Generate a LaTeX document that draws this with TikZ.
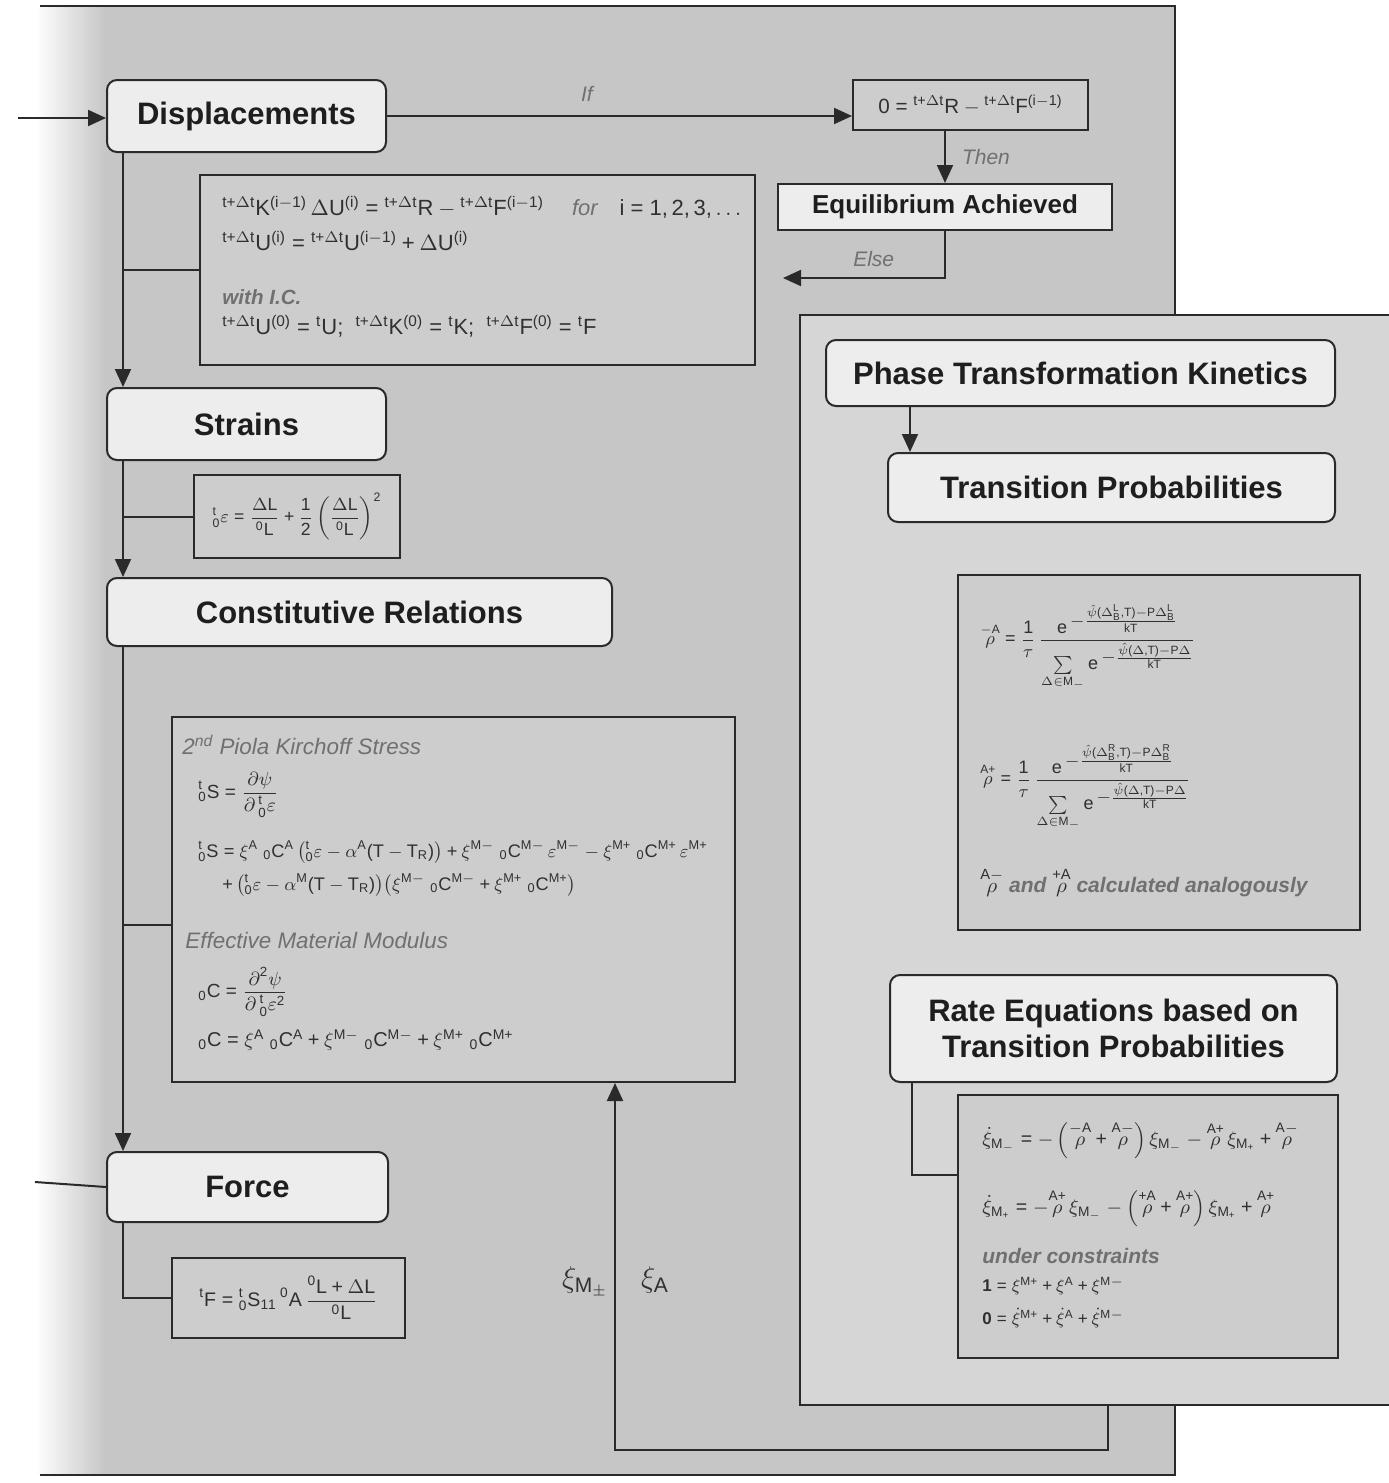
\documentclass[tikz,border=0pt]{standalone}
\usepackage{fix-cm}
\usepackage{amsmath}
\usepackage{fontspec}
\setmainfont{Liberation Sans}
\setsansfont{Liberation Sans}
\newfontfamily\lsans{Liberation Sans}[NFSSFamily=lsans]
\DeclareSymbolFont{sfnum}{TU}{lsans}{m}{n}
\AtBeginDocument{%
\DeclareMathSymbol{0}{\mathalpha}{sfnum}{`0}%
\DeclareMathSymbol{1}{\mathalpha}{sfnum}{`1}%
\DeclareMathSymbol{2}{\mathalpha}{sfnum}{`2}%
\DeclareMathSymbol{3}{\mathalpha}{sfnum}{`3}%
\DeclareMathSymbol{4}{\mathalpha}{sfnum}{`4}%
\DeclareMathSymbol{5}{\mathalpha}{sfnum}{`5}%
\DeclareMathSymbol{6}{\mathalpha}{sfnum}{`6}%
\DeclareMathSymbol{7}{\mathalpha}{sfnum}{`7}%
\DeclareMathSymbol{8}{\mathalpha}{sfnum}{`8}%
\DeclareMathSymbol{9}{\mathalpha}{sfnum}{`9}%
\DeclareMathSymbol{(}{\mathopen}{sfnum}{`(}%
\DeclareMathSymbol{)}{\mathclose}{sfnum}{`)}%
\DeclareMathSymbol{+}{\mathbin}{sfnum}{`+}%
\DeclareMathSymbol{=}{\mathrel}{sfnum}{`=}%
\DeclareMathSymbol{,}{\mathpunct}{sfnum}{`,}%
}
\usetikzlibrary{arrows.meta}
\definecolor{mainbg}{HTML}{C6C6C6}
\definecolor{panelbg}{HTML}{D6D6D6}
\definecolor{boxfill}{HTML}{EDEDED}
\definecolor{fboxfill}{HTML}{CDCDCD}
\definecolor{linec}{HTML}{2A2A2A}
\definecolor{txtc}{HTML}{1E1E1E}
\definecolor{mathc}{HTML}{303030}
\definecolor{lblc}{HTML}{707070}
\newcommand\mr[1]{\mathrm{#1}}
\newcommand\rr[1]{\overset{\mathrm{#1}}{\rho}}
\newcommand\tdt{\mr{t}+\Delta\mr{t}}
\newcommand\gl[1]{{\color{lblc}\itshape #1}}
\newcommand\gb[1]{{\color{lblc}\bfseries\itshape #1}}
\newcommand\ex[2]{\mathrm{e}\,\raisebox{3.5pt}{$-\frac{#1}{#2}$}}
\begin{document}
\begin{tikzpicture}[x=0.5pt,y=-0.5pt,
  title/.style={draw=linec, line width=1pt, rounded corners=5pt, fill=boxfill, text=txtc, font=\fontsize{15.5}{18}\selectfont\bfseries, inner sep=0pt},
  fbox/.style={draw=linec, line width=1pt, fill=fboxfill, inner sep=0pt},
  conn/.style={draw=linec, line width=1pt},
  arr/.style={conn, -{Triangle[length=9pt,width=8pt]}},
  lbl/.style={text=lblc, font=\fontsize{10.5}{12}\selectfont\itshape, inner sep=0pt},
  mtx/.style={text=mathc, font=\fontsize{9}{11}\selectfont, inner sep=0pt, anchor=west},
]
\useasboundingbox (0,0) rectangle (1388,1483);
\fill[white] (0,0) rectangle (1388,1483);
% main panel
\fill[mainbg] (35,6) rectangle (1175,1475);
\shade[left color=white, right color=mainbg] (35,6) rectangle (105,1475);
\draw[linec, line width=1pt] (40,6) -- (1175,6) -- (1175,1475) -- (40,1475);
% right panel
\node[draw=linec, line width=1pt, fill=panelbg, minimum width=296pt, minimum height=545pt, inner sep=0pt] (panel) at (1096,860) {};

% left column
\node[title, minimum width=139.5pt, minimum height=36pt] (disp) at (246.5,116) {Displacements};
\node[fbox, minimum width=117.5pt, minimum height=25pt, text=mathc, font=\fontsize{10.3}{12}\selectfont] (cond) at (970.5,105)
  {$0={}^{\tdt}\mr{R}-{}^{\tdt}\mr{F}^{(\mr{i}-1)}$};
\node[draw=linec, line width=1pt, fill=boxfill, inner sep=0pt, minimum width=167pt, minimum height=23pt, text=txtc, font=\fontsize{13}{15}\selectfont\bfseries] (equil) at (945,207) {Equilibrium Achieved};
\node[fbox, minimum width=277.5pt, minimum height=95pt] (eq1) at (477.5,270) {};
\node[mtx, font=\fontsize{11}{13}\selectfont] (e1a) at (222,207) {${}^{\tdt}\mr K^{(\mr i-1)}\,\Delta\mr U^{(\mr i)} = {}^{\tdt}\mr R - {}^{\tdt}\mr F^{(\mr i-1)}$\quad\ \gl{for}\quad $\mr i = 1,2,3,\ldots$};
\node[mtx, font=\fontsize{11}{13}\selectfont] (e1b) at (222,241) {${}^{\tdt}\mr U^{(\mr i)} = {}^{\tdt}\mr U^{(\mr i-1)} + \Delta\mr U^{(\mr i)}$};
\node[mtx, font=\fontsize{10.3}{12}\selectfont] (e1c) at (222,297) {\gb{with I.C.}};
\node[mtx, font=\fontsize{11}{13}\selectfont] (e1d) at (222,326) {${}^{\tdt}\mr U^{(0)} = {}^{\mr t}\mr U$;\ \ ${}^{\tdt}\mr K^{(0)} = {}^{\mr t}\mr K$;\ \ ${}^{\tdt}\mr F^{(0)} = {}^{\mr t}\mr F$};

\node[title, minimum width=139.5pt, minimum height=36pt] (strains) at (246.5,424) {Strains};
\node[fbox, minimum width=103pt, minimum height=41.5pt, text=mathc, font=\fontsize{8.8}{10}\selectfont] (strf) at (297,516.5)
  {$\displaystyle {}^{\mr t}_{0}\varepsilon = \frac{\Delta\mr L}{{}^0\mr L} + \frac{1}{2}\left(\frac{\Delta\mr L}{{}^0\mr L}\right)^{2}$};

\node[title, minimum width=252.5pt, minimum height=34pt] (const) at (359.5,612) {Constitutive Relations};
\node[fbox, minimum width=281.5pt, minimum height=182.5pt] (consf) at (453.5,899.5) {};
\node[mtx, text=lblc, font=\fontsize{11.2}{13}\selectfont\itshape] (c1) at (182,745) {2\textsuperscript{nd} Piola Kirchoff Stress};
\node[mtx, font=\fontsize{9.5}{11}\selectfont] (c2) at (198,795) {$\displaystyle {}^{\mr t}_{0}\mr S = \frac{\partial\psi}{\partial\,{}^{\mr t}_{0}\varepsilon}$};
\node[mtx, font=\fontsize{9.1}{10}\selectfont] (c3) at (198,852) {${}^{\mr t}_{0}\mr S = \xi^{\mr A}\;{}_{0}\mr C^{\mr A}\left({}^{\mr t}_{0}\varepsilon-\alpha^{\mr A}(\mr T-\mr T_{\mr R})\right)+\xi^{\mr{M}-}\;{}_{0}\mr C^{\mr{M}-}\,\varepsilon^{\mr M-}-\xi^{\mr M+}\;{}_{0}\mr C^{\mr M+}\,\varepsilon^{\mr M+}$};
\node[mtx, font=\fontsize{9.1}{10}\selectfont] (c4) at (222,885) {$+\left({}^{\mr t}_{0}\varepsilon-\alpha^{\mr M}(\mr T-\mr T_{\mr R})\right)\!\left(\xi^{\mr M-}\;{}_{0}\mr C^{\mr M-}+\xi^{\mr M+}\;{}_{0}\mr C^{\mr M+}\right)$};
\node[mtx, text=lblc, font=\fontsize{11.2}{13}\selectfont\itshape] (c5) at (185,940) {Effective Material Modulus};
\node[mtx, font=\fontsize{9.5}{11}\selectfont] (c6) at (198,992) {$\displaystyle {}_{0}\mr C = \frac{\partial^{2}\psi}{\partial\,{}^{\mr t}_{0}\varepsilon^{2}}$};
\node[mtx, font=\fontsize{10}{12}\selectfont] (c7) at (198,1040) {${}_{0}\mr C = \xi^{\mr A}\;{}_{0}\mr C^{\mr A}+\xi^{\mr M-}\;{}_{0}\mr C^{\mr M-}+\xi^{\mr M+}\;{}_{0}\mr C^{\mr M+}$};

\node[title, minimum width=140.5pt, minimum height=35pt] (force) at (247.5,1187) {Force};
\node[fbox, minimum width=116.5pt, minimum height=40pt, text=mathc, font=\fontsize{9.8}{11}\selectfont] (forcef) at (288.5,1298)
  {$\displaystyle {}^{\mr t}\mr F={}^{\mr t}_{0}\mr S_{11}\,{}^{0}\mr A\,\frac{{}^{0}\mr L+\Delta\mr L}{{}^{0}\mr L}$};

% right column
\node[title, minimum width=254.5pt, minimum height=33pt] (ptk) at (1080.5,373) {Phase Transformation Kinetics};
\node[title, minimum width=223.5pt, minimum height=34.5pt] (tp) at (1111.5,487.5) {Transition Probabilities};
\node[fbox, minimum width=201pt, minimum height=177.5pt] (tpf) at (1159,752.5) {};
\node[mtx, font=\fontsize{9}{10}\selectfont] (p1) at (980,648) {$\displaystyle \rr{-A} = \frac{1}{\tau}\,\frac{\ex{\hat\psi(\Delta^{\mr L}_{\mr B},\mr T)-\mr P\Delta^{\mr L}_{\mr B}}{\mr{kT}}}{\sum\limits_{\Delta\in\mr M_-} \ex{\hat\psi(\Delta,\mr T)-\mr P\Delta}{\mr{kT}}}$};
\node[mtx, font=\fontsize{9}{10}\selectfont] (p2) at (980,788) {$\displaystyle \rr{A+} = \frac{1}{\tau}\,\frac{\ex{\hat\psi(\Delta^{\mr R}_{\mr B},\mr T)-\mr P\Delta^{\mr R}_{\mr B}}{\mr{kT}}}{\sum\limits_{\Delta\in\mr M_-} \ex{\hat\psi(\Delta,\mr T)-\mr P\Delta}{\mr{kT}}}$};
\node[mtx, font=\fontsize{10.5}{12}\selectfont] (p3) at (980,882) {$\rr{A-}$ \gb{and} $\rr{+A}$ \gb{calculated analogously}};

\node[title, minimum width=223.5pt, minimum height=53.5pt, align=center, font=\fontsize{15.5}{18}\selectfont\bfseries] (rate) at (1113.5,1028.5) {Rate Equations based on\\Transition Probabilities};
\node[fbox, minimum width=190pt, minimum height=131.5pt] (ratef) at (1148,1226.5) {};
\node[mtx, font=\fontsize{9.8}{12}\selectfont] (q1) at (982,1140) {$\dot\xi_{\mr M_-} = -\left(\rr{-A}+\rr{A-}\right)\xi_{\mr M_-} - \rr{A+}\,\xi_{\mr M_+} + \rr{A-}$};
\node[mtx, font=\fontsize{9.8}{12}\selectfont] (q2) at (982,1208) {$\dot\xi_{\mr M_+} = -\rr{A+}\,\xi_{\mr M_-} - \left(\rr{+A}+\rr{A+}\right)\xi_{\mr M_+} + \rr{A+}$};
\node[mtx, font=\fontsize{10.5}{12}\selectfont] (q3) at (982,1256) {\gb{under constraints}};
\node[mtx, font=\fontsize{8.5}{10}\selectfont] (q4) at (982,1286) {$\mathbf{1} = \xi^{\mr M+}+\xi^{\mr A}+\xi^{\mr M-}$};
\node[mtx, font=\fontsize{8.5}{10}\selectfont] (q5) at (982,1318) {$\mathbf{0} = \dot\xi^{\mr M+}+\dot\xi^{\mr A}+\dot\xi^{\mr M-}$};

% xi labels
\node[text=mathc, font=\fontsize{15}{17}\selectfont, inner sep=0pt] (xm) at (585,1282) {$\xi_{\mr M_{\pm}}$};
\node[text=mathc, font=\fontsize{15}{17}\selectfont, inner sep=0pt] (xa) at (655,1280) {$\xi_{\mr A}$};

% connectors
\coordinate (tx) at (123,0);
\draw[arr] (disp.east) -- (disp.east -| cond.west) node[lbl, pos=0.43, above=7pt] (iflbl) {If};
\draw[arr] (equil.north |- cond.south) -- (equil.north) node[lbl, midway, right=8pt] (thenlbl) {Then};
\coordinate (elseend) at (783,278);
\draw[arr] (equil.south) |- (elseend) node[lbl, pos=0.72, above=5pt] (elselbl) {Else};

\draw[arr] (disp.south -| tx) -- (strains.north -| tx);
\draw[conn] (tx |- eq1.west) -- (eq1.west);
\draw[arr] (strains.south -| tx) -- (const.north -| tx);
\draw[conn] (tx |- strf.west) -- (strf.west);
\draw[arr] (const.south -| tx) -- (force.north -| tx);
\coordinate (b3) at (123,925);
\draw[conn] (b3) -- (b3 -| consf.west);
\draw[conn] (force.south -| tx) |- (forcef.west);

\coordinate (loopA) at (35,1182);
\draw[conn] (force.west) -- (loopA);
\coordinate (loopB) at (18,118);
\draw[arr] (loopB) -- (loopB -| disp.west);

\coordinate (px) at (910,0);
\draw[arr] (ptk.south -| px) -- (tp.north -| px);
\coordinate (rb) at (912,1175);
\draw[conn] (rate.south -| rb) -- (rb) -- (rb -| ratef.west);

\coordinate (lb1) at (1108,1450);
\coordinate (lb2) at (615,1450);
\draw[arr] (panel.south -| lb1) -- (lb1) -- (lb2) -- (consf.south -| lb2);
\end{tikzpicture}
\end{document}
